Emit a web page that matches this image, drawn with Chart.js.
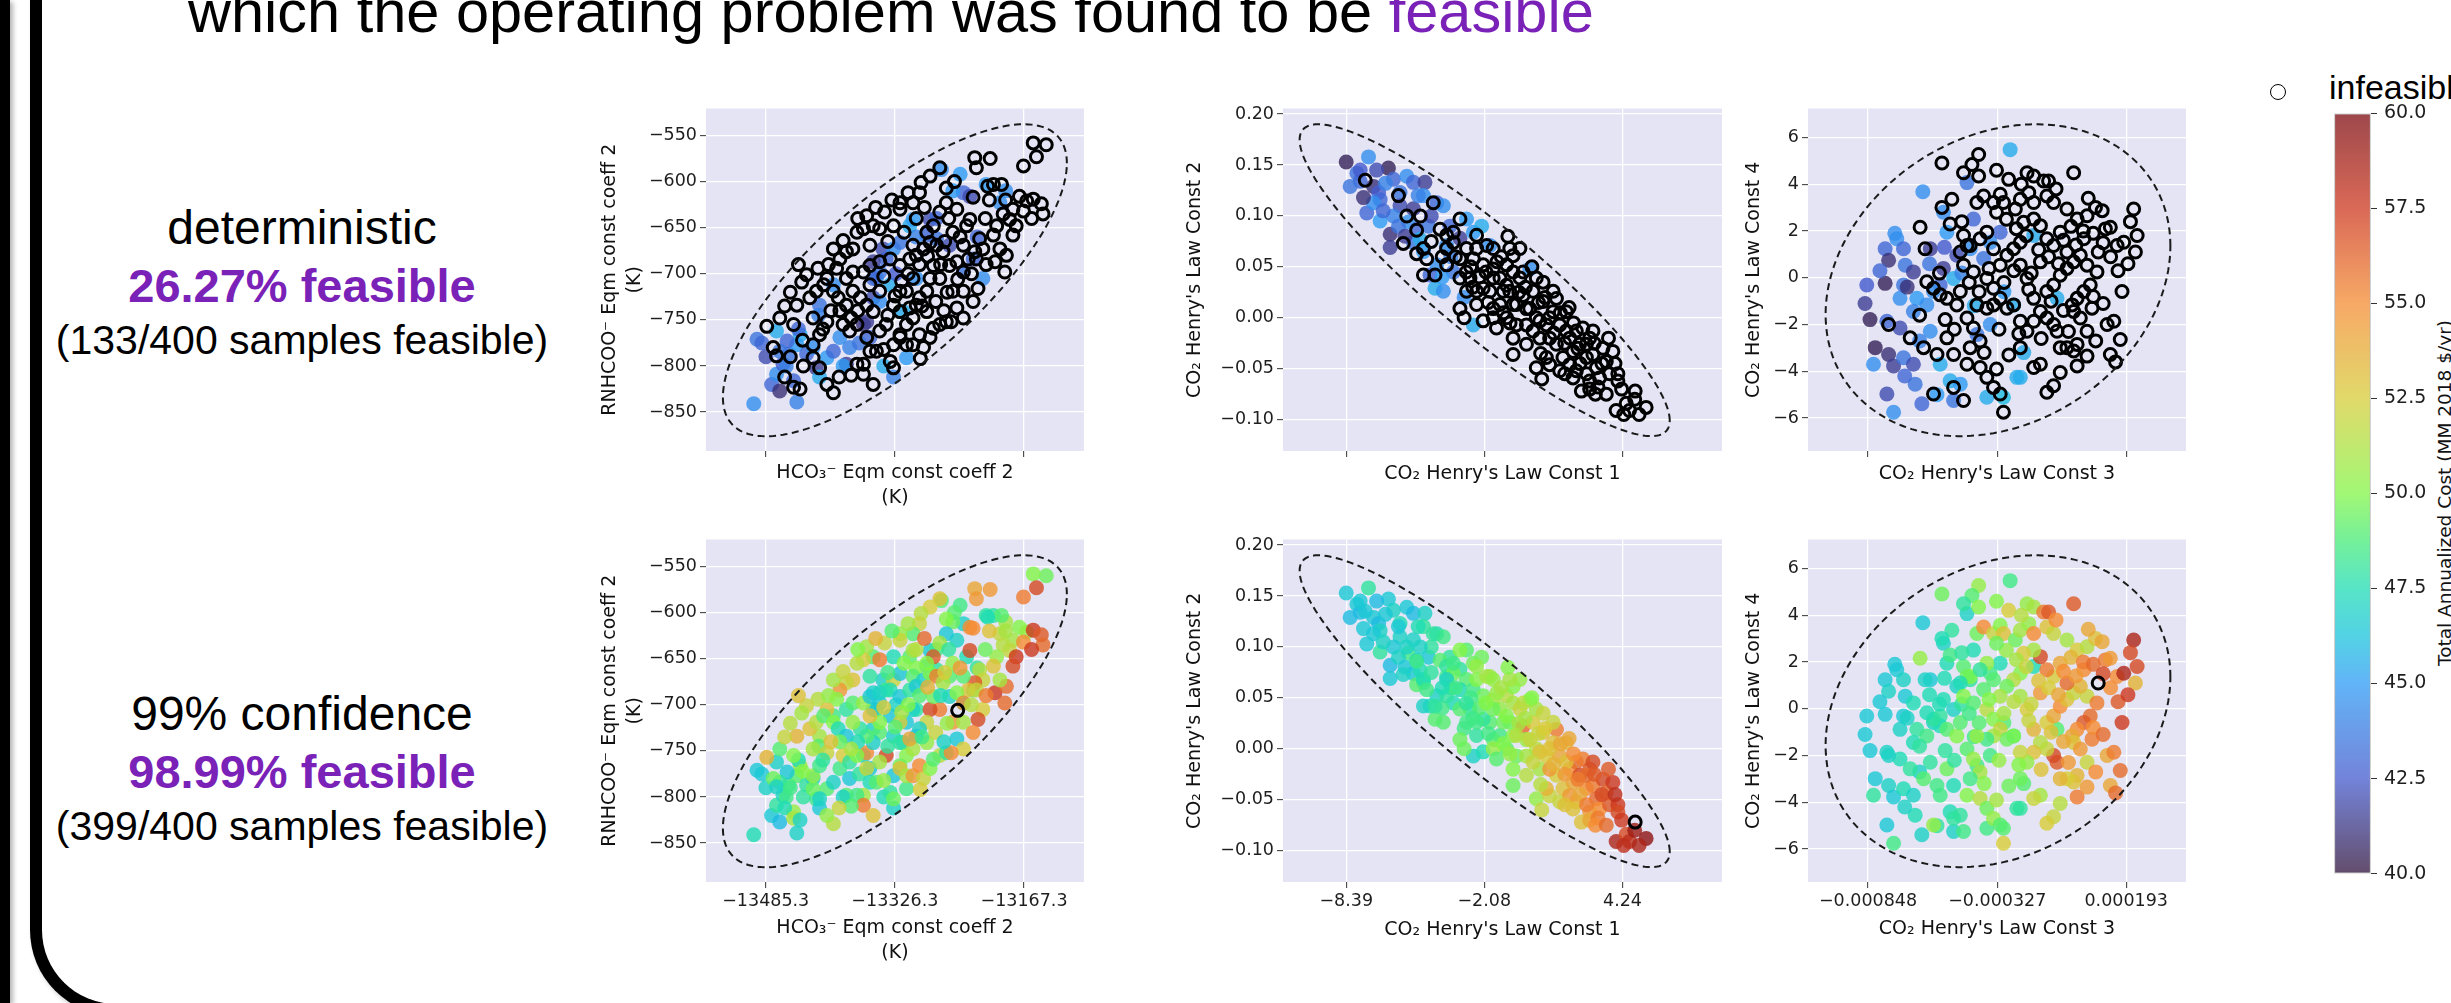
<!DOCTYPE html>
<html>
<head>
<meta charset="utf-8">
<script src="https://cdn.jsdelivr.net/npm/chart.js@4.4.1/dist/chart.umd.min.js"></script>
<style>
  body { margin: 0; width: 2451px; height: 1003px; overflow: hidden; background: #fff; position: relative;
         font-family: "Liberation Sans", Arial, sans-serif; }
  canvas { position: absolute; }
  .txt { position: absolute; white-space: nowrap; line-height: 1; color: #000; }
  .ctr { transform: translateX(-50%); }
  .purple { color: #7a22b8; }
  .bold { font-weight: bold; }
</style>
</head>
<body>
<div style="position:absolute;left:0;top:0;width:10px;height:1003px;background:#000;box-shadow:3px 2px 5px rgba(0,0,0,0.3)"></div>
<div style="position:absolute;left:30px;top:-100px;width:2600px;height:1116px;box-sizing:border-box;border-left:12px solid #000;border-bottom:12px solid #000;border-bottom-left-radius:86px;box-shadow:3px 3px 5px rgba(0,0,0,0.25)"></div>

<div class="txt" style="left:188px;top:-18px;font-size:59.5px">which the operating problem was found to be <span class="purple">feasible</span></div>

<div style="position:absolute;left:2270px;top:84px;width:16px;height:16px;box-sizing:border-box;border:1.6px solid #000;border-radius:50%"></div>
<div class="txt" style="left:2329px;top:70px;font-size:34px">infeasible</div>

<div class="txt ctr" style="left:302px;top:204px;font-size:48px">deterministic</div>
<div class="txt ctr purple bold" style="left:302px;top:262px;font-size:47px">26.27% feasible</div>
<div class="txt ctr" style="left:302px;top:320px;font-size:41px">(133/400 samples feasible)</div>

<div class="txt ctr" style="left:302px;top:690px;font-size:48px">99% confidence</div>
<div class="txt ctr purple bold" style="left:302px;top:748px;font-size:47px">98.99% feasible</div>
<div class="txt ctr" style="left:302px;top:806px;font-size:41px">(399/400 samples feasible)</div>

<div class="txt" style="left:2445px;top:493px;font-family:'DejaVu Sans',sans-serif;font-size:18.5px;color:#111;transform:translate(-50%,-50%) rotate(-90deg)">Total Annualized Cost (MM 2018 $/yr)</div>

<script>
// ---------- data ----------
// feasible rows: [x, y, deterministic cost, 99%-confidence cost]
// infeasible rows (deterministic): [x, y, 99%-confidence cost, or null where still infeasible]

const p1Feasible = [
  [-13500,-841,44.5,47.5],[-13496,-771,43.5,46.5],[-13490,-775,43,46.5],[-13478,-820,43,46.5],
  [-13472,-809,44.5,48],[-13468,-827,41,46],[-13464,-798,42.5,47],[-13457,-787,43.5,48.5],
  [-13451,-816,43,50.5],[-13447,-839,44,47],[-13443,-766,45.5,51],[-13447,-777,45,49],
  [-13435,-787,43,48],[-13427,-780,44.5,47],[-13423,-802,41.5,48.5],[-13419,-812,45.5,46.5],
  [-13410,-791,45,49],[-13402,-784,43,47],[-13394,-769,44.5,48.5],[-13382,-780,44,46.5],
  [-13365,-755,41,47],[-13361,-752,41.5,55],[-13357,-769,43,46.5],[-13353,-726,42,47],
  [-13349,-705,44.5,48],[-13345,-698,43.5,46.5],[-13341,-673,42,47],[-13337,-684,43,48.5],
  [-13328,-673,44.5,52],[-13320,-666,43.5,46.5],[-13308,-648,45.5,49],[-13304,-641,45,51],
  [-13287,-658,43,47],[-13283,-641,42,46.5],[-13275,-662,43.5,48],[-13269,-587,44.5,49],
  [-13246,-592,45,48.5],[-13242,-612,43,47],[-13234,-616,42,55],[-13214,-603,45,48],
  [-13197,-623,44.5,52],[-13230,-684,43,49],[-13242,-698,43.5,47],[-13316,-741,45.5,46.5],
  [-13353,-705,43,46.5],[-13402,-712,44.5,48.5],[-13419,-734,43.5,51],[-13459,-773,43,46.5],
  [-13468,-784,43.5,48],[-13328,-812,44,47],[-13332,-712,45.5,46.5],[-13300,-705,44.5,48],
  [-13353,-687,41.5,47],[-13259,-669,42,49],[-13218,-705,44.5,52.5],[-13312,-791,45,48.5],
  [-13472,-762,45.5,47],[-13386,-798,41.5,49],[-13485,-790,42,47],[-13460,-800,44,48.5],
  [-13445,-760,43,47.5],[-13390,-800,45,47],[-13370,-775,43.5,48],[-13345,-730,44.5,49],
  [-13325,-700,42.5,47],[-13300,-660,44,50],[-13275,-640,43,48.5],[-13255,-610,45,49.5],
  [-13190,-610,44.5,51],[-13225,-660,43,48],[-13340,-800,45.5,47.5],[-13420,-745,44,49]
];
const p1Infeasible = [
  [-13140,-560,49.5],[-13156,-558,50],[-13152,-573,57],[-13168,-583,55.5],[-13209,-575,54.5],
  [-13228,-574,54],[-13226,-585,54.5],[-13271,-585,53],[-13253,-600,49],[-13263,-607,50],
  [-13283,-594,52.5],[-13294,-601,51.5],[-13296,-612,52],[-13205,-603,48],[-13195,-603,49],
  [-13212,-605,47.5],[-13230,-617,55],[-13173,-616,50],[-13164,-621,50.5],[-13156,-619,57.5],
  [-13146,-624,56.5],[-13144,-635,56],[-13181,-630,51],[-13185,-641,52],[-13177,-648,57.5],
  [-13181,-658,57],[-13193,-635,51.5],[-13201,-648,50.5],[-13205,-658,53],[-13203,-687,57.5],
  [-13191,-698,56],[-13224,-716,57],[-13222,-662,51.5],[-13218,-673,52],[-13228,-676,56.5],
  [-13236,-684,53],[-13242,-669,49],[-13238,-648,47.5],[-13234,-641,57],[-13250,-630,47],
  [-13263,-623,46.5],[-13271,-633,51],[-13279,-648,56.5],[-13287,-655,50],[-13304,-623,49],
  [-13310,-612,51],[-13320,-623,50.5],[-13320,-630,52],[-13328,-648,47.5],[-13339,-633,52],
  [-13353,-648,49],[-13345,-651,55.5],[-13361,-637,51],[-13365,-651,52.5],[-13357,-669,48],
  [-13373,-655,51.5],[-13378,-673,53],[-13386,-676,52],[-13394,-684,54.5],[-13402,-673,51],
  [-13398,-694,50],[-13410,-705,53],[-13421,-694,51.5],[-13435,-701,52],[-13441,-709,51],
  [-13447,-734,53.5],[-13451,-755,50],[-13468,-748,49],[-13484,-757,53.5],[-13476,-780,49.5],
  [-13472,-789,47],[-13462,-812,47.5],[-13451,-823,51],[-13443,-825,47],[-13439,-800,48],
  [-13427,-791,49.5],[-13419,-802,47],[-13402,-829,51.5],[-13427,-777,50.5],[-13419,-766,48.5],
  [-13410,-752,52],[-13427,-748,51],[-13431,-726,53],[-13423,-719,51.5],[-13414,-712,49],
  [-13402,-719,50],[-13396,-726,47.5],[-13386,-705,48],[-13378,-698,49],[-13365,-698,50.5],
  [-13357,-691,46.5],[-13345,-687,47],[-13332,-684,47.5],[-13320,-691,46.5],[-13308,-684,48],
  [-13304,-669,49],[-13300,-680,46.5],[-13291,-673,47],[-13283,-666,50],[-13275,-669,55.5],
  [-13267,-676,51],[-13259,-691,47],[-13250,-687,50],[-13242,-698,55],[-13249,-706,null],
  [-13271,-705,55.5],[-13283,-705,57],[-13287,-719,52],[-13296,-726,47],[-13312,-719,46.5],
  [-13320,-719,52.5],[-13328,-734,47],[-13320,-741,48],[-13312,-755,50],[-13320,-766,49.5],
  [-13328,-777,46.5],[-13337,-755,57],[-13345,-762,51],[-13353,-741,47],[-13361,-734,49],
  [-13369,-726,48],[-13378,-719,50.5],[-13386,-734,46.5],[-13390,-755,52.5],[-13382,-762,48],
  [-13373,-755,50],[-13361,-769,52],[-13357,-784,47.5],[-13349,-784,49],[-13365,-798,51],
  [-13373,-798,48.5],[-13365,-809,55.5],[-13353,-820,53],[-13332,-795,48],[-13328,-802,49.5],
  [-13320,-769,53],[-13312,-777,51],[-13304,-777,54.5],[-13296,-766,55],[-13291,-780,52],
  [-13283,-769,50],[-13271,-755,51.5],[-13263,-752,48],[-13250,-737,46.5],[-13242,-748,52.5],
  [-13279,-759,49],[-13257,-752,55],[-13287,-741,50.5],[-13300,-734,46.5],[-13304,-748,51],
  [-13308,-737,54],[-13226,-684,52],[-13255,-719,54.5],[-13304,-705,47],[-13279,-691,49.5],
  [-13345,-719,50],[-13357,-712,53],[-13242,-719,51],[-13230,-730,55],[-13189,-680,56],
  [-13197,-673,51],[-13335,-745,48],[-13318,-708,51],[-13296,-690,49],[-13286,-681,53.5],
  [-13270,-690,47.5],[-13262,-720,50.5],[-13293,-735,48.5],[-13276,-730,52],[-13266,-740,47],
  [-13310,-700,50],[-13326,-724,49],[-13340,-703,52.5],[-13372,-740,47.5],[-13380,-748,51],
  [-13394,-740,49.5],[-13405,-740,53],[-13415,-760,48],[-13440,-772,50],[-13455,-790,48.5],
  [-13462,-735,52],[-13455,-720,51.5],[-13445,-690,53],[-13408,-690,50.5],[-13390,-664,52],
  [-13372,-640,50],[-13350,-628,53.5],[-13330,-620,49],[-13300,-640,51.5],[-13290,-628,56],
  [-13260,-640,48],[-13255,-655,50.5],[-13246,-660,54.5],[-13215,-640,49.5],[-13210,-620,53],
  [-13190,-620,51],[-13168,-632,55],[-13158,-640,57.5],[-13214,-690,55.5],[-13232,-700,51.5],
  [-13265,-665,52.5],[-13315,-655,50],[-13335,-665,48.5],[-13295,-792,52.5],[-13340,-782,50.5],
  [-13380,-810,49],[-13395,-812,52],[-13410,-820,50.5]
];

const p2Feasible = [
  [-8.39,0.153,40.5,46.5],[-7.37,0.158,44.5,48],[-7.90,0.142,43.5,46.5],[-7.75,0.134,43,46],
  [-7.14,0.129,41,46.5],[-6.91,0.123,42.5,46],[-6.46,0.147,40.5,46.5],[-6.23,0.136,43,47],
  [-5.93,0.123,43.5,47.5],[-5.62,0.139,44.5,46.5],[-5.32,0.133,43,46],[-4.79,0.133,41.5,47],
  [-4.86,0.120,44.5,48],[-4.25,0.113,43,47.5],[-3.95,0.110,44.5,48.5],[-7.45,0.103,43,46.5],
  [-6.84,0.095,45,48],[-6.38,0.082,41,46],[-6.38,0.069,41.5,46.5],[-5.93,0.110,42,47],
  [-5.55,0.094,44.5,48.5],[-5.17,0.087,43,47],[-5.32,0.074,43.5,46.5],[-4.86,0.065,45,48],
  [-4.63,0.090,43.5,46.5],[-4.25,0.052,44.5,47],[-4.33,0.029,45.5,49],[-4.56,0.042,43,47.5],
  [-3.80,0.071,44.5,48.5],[-3.19,0.078,41.5,48],[-2.58,0.084,45,49.5],[-1.82,0.071,44.5,50.5],
  [-2.58,-0.007,45.5,47],[0.00,0.048,44.5,50],[-3.65,0.090,43,48],[-7.75,0.145,42.5,46.5],
  [-6.84,0.116,43,47],[-6.23,0.100,44,46.5],[-3.49,0.045,43.5,47.5],[-2.89,0.097,45,49],
  [-8.21,0.129,43.5,46],[-7.14,0.113,44.5,46.5],[-5.32,0.107,41.5,47],[-3.95,0.026,44.5,49],
  [-5.01,0.077,45.5,47.5],[-7.00,0.145,42,46],[-6.60,0.132,44,46.5],[-6.00,0.090,43.5,47],
  [-5.70,0.080,41.5,46.5],[-5.10,0.120,44,47.5],[-4.50,0.100,42,48],[-4.00,0.040,45,48.5],
  [-3.60,0.060,44,48],[-6.70,0.105,43,47],[-7.60,0.118,41,46.5],[-2.20,0.090,45.5,49.5],
  [-3.00,0.020,44.5,48.5]
];
const p2Infeasible = [
  [-7.52,0.135,46.5],[-4.41,0.113,48],[-5.62,0.100,47],[-5.17,0.086,48.5],[-5.78,0.073,47],
  [-5.17,0.063,49],[-4.86,0.068,47.5],[-4.71,0.058,48.5],[-4.86,0.042,47],[-4.33,0.042,48],
  [-4.10,0.087,49],[-3.80,0.081,48],[-3.49,0.074,49.5],[-3.19,0.097,50],[-3.49,0.084,48.5],
  [-2.43,0.081,50.5],[-2.89,0.068,49],[-3.19,0.058,47.5],[-3.80,0.052,48],[-3.80,0.068,47],
  [-2.58,0.058,48.5],[-2.43,0.068,50],[-1.97,0.071,51],[-1.67,0.068,50.5],[-2.13,0.052,49.5],
  [-1.67,0.048,51],[-2.73,0.039,48],[-3.19,0.039,49],[-2.89,0.026,48.5],[-3.19,0.009,49.5],
  [-2.43,0.013,48],[-2.13,-0.003,47.5],[-1.82,0.026,49],[-1.36,0.039,50.5],[-1.06,0.052,51.5],
  [-0.76,0.061,50],[-0.76,0.045,51],[-0.91,0.026,49.5],[-1.36,0.013,48.5],[-1.06,0.000,49],
  [-0.45,0.039,52],[-0.30,0.022,56],[-0.15,0.009,50.5],[-0.61,-0.007,49.5],[-0.76,-0.020,50],
  [-0.76,-0.036,49.5],[-0.15,-0.026,51.5],[0.15,0.026,52.5],[0.30,0.039,51],[0.61,0.035,52],
  [0.61,0.016,53],[0.30,0.000,51.5],[0.76,-0.007,52.5],[0.46,-0.020,51],[0.30,-0.049,50.5],
  [0.91,-0.046,52],[1.22,0.019,55.5],[1.07,0.006,53],[1.37,-0.007,54],[1.67,0.006,53.5],
  [1.22,-0.026,52.5],[1.52,-0.039,53],[1.37,-0.052,52],[1.83,-0.020,55],[2.13,-0.013,56],
  [1.98,-0.033,54],[2.43,-0.010,55.5],[2.28,-0.026,57],[2.59,-0.039,55],[2.13,-0.052,53.5],
  [2.74,-0.020,56.5],[2.89,-0.036,55.5],[3.05,-0.049,56],[3.35,-0.030,57],[3.50,-0.043,56],
  [3.19,-0.059,55],[3.80,-0.033,57.5],[3.65,-0.055,56.5],[2.74,-0.062,54.5],[2.36,-0.072,53],
  [2.74,-0.070,54],[3.12,-0.068,55.5],[4.03,-0.055,57.5],[3.95,-0.091,58.5],[4.41,-0.084,57],
  [4.82,-0.072,null],[4.56,-0.091,58],[5.32,-0.088,59.5],[4.03,-0.062,57],[-0.76,0.013,50],
  [-1.67,0.009,49],[-1.67,0.000,50.5],[-2.13,0.029,48],[-0.15,-0.007,51],[0.00,0.009,52],
  [-0.45,0.068,50.5],[-0.91,0.068,51],[-1.21,0.026,49.5],[0.46,-0.003,53],[0.91,-0.020,54.5],
  [1.67,-0.013,53],[1.83,-0.046,54.5],[2.59,-0.026,56],[1.07,0.026,52],[-1.52,-0.010,49],
  [-2.43,0.026,48.5],[-1.06,0.032,50],[-1.67,0.039,49.5],[-0.61,0.013,51.5],[0.15,-0.013,52],
  [0.76,-0.039,53.5],[1.98,-0.059,53],[2.89,-0.013,57],[-2.70,0.050,48.5],[-2.30,0.040,49],
  [-2.00,0.045,50],[-1.50,0.055,50.5],[-1.30,0.060,51],[-1.90,0.015,48.5],[-1.20,0.005,50],
  [-0.90,-0.005,50.5],[-0.50,0.025,51],[-0.30,0.045,51.5],[0.10,0.050,50],[0.40,0.015,52],
  [0.50,-0.035,51.5],[0.90,0.000,53],[1.10,-0.015,53.5],[1.40,0.005,54],[1.60,-0.025,54.5],
  [2.00,-0.005,55],[2.30,-0.045,54],[2.60,-0.055,55.5],[2.95,-0.025,56.5],[3.30,-0.045,57],
  [3.60,-0.020,56.5],[3.90,-0.045,58],[4.20,-0.070,57.5],[4.80,-0.080,59],[5.00,-0.095,58.5],
  [4.30,-0.095,58],[1.80,0.010,54],[0.70,0.020,52.5],[-0.20,0.030,51],[-2.90,0.045,48],
  [-3.40,0.060,48.5],[-4.00,0.060,47.5],[-4.50,0.075,48],[-6.00,0.120,46.5],[-5.00,0.100,47],
  [-3.00,0.000,49.5],[-2.60,0.030,48.5],[0.55,-0.060,52],[1.60,-0.055,53],[2.20,-0.030,55.5],
  [3.00,-0.075,55],[3.50,-0.075,56],[-1.00,0.080,50]
];

const p3Feasible = [
  [-0.000627,3.68,44.5,46.5],[-0.000779,1.24,43,46.5],[-0.000765,0.75,41,47],[-0.000732,1.67,44.5,46.5],
  [-0.000705,1.24,43,47],[-0.000698,0.54,43.5,46.5],[-0.000665,0.25,41.5,47.5],[-0.000853,-0.31,42.5,46.5],
  [-0.000779,-0.24,40.5,46.5],[-0.000719,-0.88,44.5,47],[-0.000705,-0.31,43.5,46.5],[-0.000651,-0.88,45,48],
  [-0.000665,-1.44,44,47.5],[-0.000611,-1.16,44.5,48.5],[-0.000840,-1.79,40.5,46.5],[-0.000772,-1.86,43,47],
  [-0.000719,-2.15,42,47.5],[-0.000819,-2.99,40.5,46.5],[-0.000765,-3.28,41,47],[-0.000745,-3.77,41.5,46.5],
  [-0.000826,-3.70,44.5,48],[-0.000705,-3.42,43.5,47.5],[-0.000665,-3.70,42,47],[-0.000658,-4.55,43.5,47.5],
  [-0.000631,-5.39,43,47],[-0.000772,-4.97,42,46.5],[-0.000745,-5.75,44.5,48.5],[-0.000597,-2.29,44.5,48],
  [-0.000557,-3.70,45.5,48.5],[-0.000517,-4.41,45.5,47.5],[-0.000476,-4.55,45,48],[-0.000503,-5.25,43.5,47],
  [-0.000369,-5.11,45.5,48.5],[-0.000302,-5.11,46,49],[-0.000234,-4.26,45.5,48],[-0.000449,4.07,43.5,47],
  [-0.000423,2.51,43,47.5],[-0.000436,1.24,44.5,48],[-0.000544,2.80,44.5,47],[-0.000530,1.95,45,47.5],
  [-0.000490,0.96,42,47],[-0.000544,0.40,41.5,47.5],[-0.000557,-0.31,43,48],[-0.000503,-0.03,45.5,47],
  [-0.000382,0.82,43.5,49],[-0.000355,1.52,44.5,48.5],[-0.000275,5.48,45.5,48.5],[-0.000315,1.95,43,47.5],
  [-0.000261,-1.16,45.5,48],[-0.000355,-2.00,44.5,48.5],[-0.000180,1.81,45.5,47.5],[-0.000086,-0.88,45.5,49],
  [-0.000248,-4.26,45.5,48],[-0.000409,-2.43,43.5,48.5],[-0.000597,1.24,41.5,46.5],[-0.000584,-0.59,44.5,47],
  [-0.000800,0.30,43,46.5],[-0.000690,-0.40,41,47],[-0.000740,1.90,44.5,46.5],[-0.000600,0.60,43.5,47.5],
  [-0.000640,-2.70,44,47],[-0.000570,-5.00,45,48],[-0.000540,1.30,42.5,47.5],[-0.000470,0.20,44,48],
  [-0.000420,-1.20,45.5,48.5],[-0.000300,-0.60,45,49],[-0.000860,-1.10,41.5,46.5],[-0.000700,-4.20,43,47],
  [-0.000220,-3.20,45.5,49]
];
const p3Infeasible = [
  [-0.000550,4.91,49.5],[-0.000402,5.27,50.5],[-0.000429,4.84,49],[-0.000463,4.49,48],[-0.000402,4.35,50],
  [-0.000281,4.21,52.5],[-0.000207,4.49,50.5],[-0.000180,4.35,51],[-0.000140,4.14,55.5],[-0.000120,4.14,56.5],
  [-0.000019,4.49,56.5],[-0.000510,3.36,48],[-0.000550,3.01,47.5],[-0.000517,2.30,48.5],[-0.000638,2.16,50.5],
  [-0.000618,1.24,47],[-0.000463,1.81,49],[-0.000436,1.38,50],[-0.000409,3.22,49.5],[-0.000382,3.50,55],
  [-0.000342,3.22,52],[-0.000315,3.57,50],[-0.000302,3.22,53],[-0.000254,2.94,49.5],[-0.000234,3.36,51],
  [-0.000200,3.64,50.5],[-0.000180,3.22,55],[-0.000127,3.50,53],[-0.000100,3.22,52],[-0.000046,2.94,51],
  [-0.000005,2.51,52.5],[0.000035,2.65,51.5],[0.000069,3.01,53],[0.000096,2.87,54],[0.000109,2.09,55.5],
  [0.000129,2.16,54.5],[0.000156,1.38,55],[0.000183,1.52,58.5],[0.000223,2.94,58.5],[0.000237,1.81,57],
  [0.000230,1.10,53.5],[0.000080,1.10,null],[0.000035,0.54,52],[0.000075,0.25,55.5],[0.000048,-0.31,56],
  [0.000022,-0.59,56.5],[-0.000005,-0.88,55],[-0.000025,-1.16,54],[-0.000019,-1.44,53],[0.000008,-1.72,54.5],
  [0.000055,-1.30,55.5],[0.000116,-2.00,54],[0.000169,-2.64,56],[0.000176,-0.59,57.5],[0.000035,-2.29,52],
  [-0.000005,-2.85,53.5],[-0.000005,-3.77,55.5],[0.000035,-3.35,54.5],[-0.000019,-3.13,53],[-0.000046,-2.99,52.5],
  [-0.000073,-2.99,53.5],[-0.000073,-4.05,51.5],[-0.000100,-4.62,52],[-0.000127,-4.90,52.5],[-0.000153,-3.70,51],
  [-0.000180,-3.84,52],[-0.000086,-2.29,56.5],[-0.000100,-2.00,57],[-0.000127,-1.72,52],[-0.000153,-1.44,51.5],
  [-0.000180,-1.86,53],[-0.000207,-2.29,50.5],[-0.000234,-2.99,49.5],[-0.000234,-1.86,52],[-0.000261,-1.16,50],
  [-0.000180,-0.88,53.5],[-0.000127,-0.59,52.5],[-0.000100,-0.31,54],[-0.000073,0.11,55],[-0.000046,0.40,53],
  [-0.000019,0.68,52],[0.000008,0.96,53.5],[-0.000046,1.10,56],[-0.000100,1.38,52.5],[-0.000127,1.67,55.5],
  [-0.000073,1.95,54],[-0.000153,2.23,57],[-0.000180,2.51,51],[-0.000221,2.37,52.5],[-0.000234,1.52,50],
  [-0.000261,1.24,51.5],[-0.000288,0.96,49.5],[-0.000315,0.54,51],[-0.000342,1.24,49],[-0.000369,1.95,50.5],
  [-0.000396,1.67,48],[-0.000449,1.38,49.5],[-0.000476,1.10,47.5],[-0.000463,0.54,50],[-0.000423,0.25,49],
  [-0.000369,-0.03,51.5],[-0.000342,-0.45,50],[-0.000315,-0.88,52],[-0.000288,-1.30,49.5],[-0.000342,-1.16,51],
  [-0.000369,-1.30,48.5],[-0.000409,-1.16,50.5],[-0.000449,-1.72,49],[-0.000423,-2.15,50.5],[-0.000396,-2.71,51],
  [-0.000436,-2.99,48.5],[-0.000449,-3.70,50],[-0.000396,-3.84,51.5],[-0.000369,-4.26,49.5],[-0.000342,-4.69,50.5],
  [-0.000315,-4.97,49],[-0.000302,-5.75,52.5],[-0.000463,-5.25,48.5],[-0.000503,-4.69,48],[-0.000584,-4.97,50.5],
  [-0.000503,-3.28,47.5],[-0.000570,-3.28,48.5],[-0.000530,-2.57,49.5],[-0.000537,-1.79,48],[-0.000557,-0.73,47.5],
  [-0.000530,-0.88,49],[-0.000584,-0.45,48],[-0.000611,-0.17,47.5],[-0.000490,-1.16,50],[-0.000476,-0.59,49],
  [-0.000765,-2.00,47],[-0.000678,-2.57,48],[-0.000624,-2.99,49],[0.000143,-1.86,55.5],[0.000129,-3.28,54],
  [-0.000207,-0.03,52.5],[-0.000153,0.68,54.5],[-0.000234,0.54,51],[0.000022,1.67,55],
  [-0.000290,2.50,50.5],[-0.000250,2.10,51],[-0.000210,1.80,52],[-0.000160,1.20,53],[-0.000120,0.90,52.5],
  [-0.000080,0.60,54],[-0.000060,1.60,55],[-0.000030,2.20,53.5],[-0.000010,1.40,54.5],[0.000020,2.00,55.5],
  [0.000060,1.90,56],[0.000100,1.50,57],[0.000130,0.90,55],[0.000160,0.30,56.5],[0.000060,-0.80,55],
  [0.000100,-1.10,56],[-0.000060,-1.40,54],[-0.000110,-1.00,53],[-0.000200,-0.50,52],[-0.000240,-2.40,50],
  [-0.000280,-3.30,49.5],[-0.000320,-2.20,50.5],[-0.000300,-0.20,51],[-0.000260,0.30,51.5],[-0.000330,2.80,49.5],
  [-0.000360,0.40,50],[-0.000400,-0.60,49],[-0.000440,-0.20,48.5],[-0.000470,2.40,48],[-0.000380,-3.20,50],
  [-0.000330,-3.90,51],[-0.000150,-2.60,53],[-0.000040,-2.30,54.5],[0.000070,-2.70,55],[0.000150,-3.60,56],
  [0.000200,0.60,57.5],[0.000210,2.40,57],[-0.000230,4.00,51.5],[-0.000330,4.60,50],[-0.000090,3.80,55],
  [0.000040,3.40,54],[-0.000500,-2.20,48],[-0.000560,0.20,47.5],[-0.000640,-1.60,48],[-0.000190,0.20,52]
];

// confidence ellipses: [centre x, centre y, half width x, half height y, correlation]
const p1Ellipse = [-13326.3, -707, 211.7, 169.2, 0.75];
const p2Ellipse = [-2.06, 0.0369, 8.46, 0.1531, -0.90];
const p3Ellipse = [-0.000324, -0.105, 0.000695, 6.67, 0.22];

// axis ranges and ticks
const p1XRange = [-13558.8, -13093.5], p1YRange = [-892.2, -520.7];
const p2XRange = [-11.28, 8.79],       p2YRange = [-0.1308, 0.2055];
const p3XRange = [-0.00109, 0.000434], p3YRange = [-7.41, 7.24];
const p1XTicks = [-13485.3, -13326.3, -13167.3];
const p1YTicks = [-850, -800, -750, -700, -650, -600, -550];
const p2XTicks = [-8.39, -2.08, 4.24];
const p2YTicks = [-0.10, -0.05, 0, 0.05, 0.10, 0.15, 0.20];
const p3XTicks = [-0.000848, -0.000327, 0.000193];
const p3YTicks = [-6, -4, -2, 0, 2, 4, 6];
const costRange = [40, 60];
const costTicks = [40, 42.5, 45, 47.5, 50, 52.5, 55, 57.5, 60];

// ---------- styling ----------
const FONT = "'DejaVu Sans', sans-serif";
const CMAP = [
  [0.0, [48, 18, 59]], [0.125, [68, 90, 205]], [0.25, [45, 155, 245]], [0.3125, [25, 195, 220]],
  [0.375, [30, 220, 180]], [0.4375, [70, 235, 120]], [0.5, [130, 245, 70]], [0.625, [215, 205, 55]],
  [0.75, [245, 140, 50]], [0.875, [205, 55, 30]], [1.0, [125, 10, 15]]
];
function cmap(c, a) {
  const t = Math.max(0, Math.min(1, (c - costRange[0]) / (costRange[1] - costRange[0])));
  let i = 0;
  while (i < CMAP.length - 2 && t > CMAP[i + 1][0]) i++;
  const [t0, c0] = CMAP[i], [t1, c1] = CMAP[i + 1];
  const f = (t - t0) / (t1 - t0);
  const rgb = c0.map((v, k) => Math.round(v + (c1[k] - v) * f));
  return `rgba(${rgb[0]},${rgb[1]},${rgb[2]},${a})`;
}
const fmt = d => v => v.toFixed(d).replace('-', '\u2212');

const plotBg = {
  id: 'plotBg',
  beforeDraw(chart) {
    const { ctx, chartArea: a } = chart;
    ctx.save();
    ctx.fillStyle = '#e4e4f5';
    ctx.fillRect(a.left, a.top, a.width, a.height);
    ctx.restore();
  }
};

const confEllipse = {
  id: 'confEllipse',
  afterDatasetsDraw(chart, args, opts) {
    const [cx, cy, ax, by, rho] = opts.params;
    const xs = chart.scales.x, ys = chart.scales.y;
    const d = Math.acos(rho);
    const ctx = chart.ctx;
    ctx.save();
    ctx.beginPath();
    for (let i = 0; i <= 240; i++) {
      const t = i / 240 * Math.PI * 2;
      const px = xs.getPixelForValue(cx + ax * Math.cos(t));
      const py = ys.getPixelForValue(cy + by * Math.cos(t - d));
      if (i) ctx.lineTo(px, py); else ctx.moveTo(px, py);
    }
    ctx.setLineDash([7, 4.5]);
    ctx.lineWidth = 2;
    ctx.strokeStyle = '#1a1a1a';
    ctx.stroke();
    ctx.restore();
  }
};

const PAD_T = 10, PAD_R = 10;
const cols = [{ left: 706, w: 378, yW: 108 }, { left: 1283, w: 439, yW: 100 }, { left: 1808, w: 378, yW: 66 }];
const rows = [{ top: 105, h: 346, xH: [59, 35, 35] }, { top: 536, h: 346, xH: [83, 60, 59] }];

const panels = [
  { feas: p1Feasible, inf: p1Infeasible, ell: p1Ellipse, xr: p1XRange, yr: p1YRange, xt: p1XTicks, yt: p1YTicks,
    xf: fmt(1), yf: fmt(0), xTitle: ['HCO\u2083\u207B Eqm const coeff 2', '(K)'], yTitle: ['RNHCOO\u207B Eqm const coeff 2', '(K)'] },
  { feas: p2Feasible, inf: p2Infeasible, ell: p2Ellipse, xr: p2XRange, yr: p2YRange, xt: p2XTicks, yt: p2YTicks,
    xf: fmt(2), yf: fmt(2), xTitle: "CO\u2082 Henry's Law Const 1", yTitle: "CO\u2082 Henry's Law Const 2" },
  { feas: p3Feasible, inf: p3Infeasible, ell: p3Ellipse, xr: p3XRange, yr: p3YRange, xt: p3XTicks, yt: p3YTicks,
    xf: fmt(6), yf: fmt(0), xTitle: "CO\u2082 Henry's Law Const 3", yTitle: "CO\u2082 Henry's Law Const 4" }
];

function datasetsFor(p, row) {
  const pt = r => ({ x: r[0], y: r[1] });
  let colored, colors, open;
  if (row === 0) {
    colored = p.feas.map(pt);
    colors = p.feas.map(r => cmap(r[2], 0.8));
    open = p.inf.map(pt);
  } else {
    const all = p.feas.map(r => [r[0], r[1], r[3]]).concat(p.inf);
    const ok = all.filter(r => r[2] !== null);
    colored = ok.map(pt);
    colors = ok.map(r => cmap(r[2], 0.8));
    open = all.filter(r => r[2] === null).map(pt);
  }
  return [
    { data: colored, backgroundColor: colors, borderWidth: 0, pointRadius: 7.5, order: 1 },
    { data: open, backgroundColor: 'rgba(0,0,0,0)', borderColor: '#000', borderWidth: 3, pointRadius: 6, order: 0 }
  ];
}

function axis(range, ticks, labelFmt, showLabels, title, fitFn) {
  return {
    type: 'linear', min: range[0], max: range[1],
    afterBuildTicks: a => { a.ticks = ticks.map(v => ({ value: v })); },
    afterFit: fitFn,
    ticks: { callback: v => showLabels ? labelFmt(v) : '', autoSkip: false, maxRotation: 0, padding: 3,
             color: '#1e1e1e', font: { family: FONT, size: 17.5 } },
    grid: { color: '#ffffff', lineWidth: 1.3, tickColor: '#333', tickLength: 6, tickWidth: 1 },
    border: { display: false },
    title: { display: true, text: title, color: '#111', padding: 0, font: { family: FONT, size: 19, lineHeight: 1.3 } }
  };
}

rows.forEach((rw, ri) => {
  cols.forEach((cl, ci) => {
    const p = panels[ci];
    const xH = rw.xH[ci];
    const cv = document.createElement('canvas');
    const W = cl.yW + cl.w + PAD_R, H = PAD_T + rw.h + xH;
    cv.width = W; cv.height = H;
    cv.style.left = (cl.left - cl.yW) + 'px';
    cv.style.top = (rw.top - PAD_T) + 'px';
    document.body.appendChild(cv);
    new Chart(cv, {
      type: 'scatter',
      data: { datasets: datasetsFor(p, ri) },
      plugins: [plotBg, confEllipse],
      options: {
        responsive: false, animation: false, devicePixelRatio: 1,
        layout: { padding: { top: PAD_T, right: PAD_R, left: 0, bottom: 0 } },
        plugins: { legend: { display: false }, tooltip: { enabled: false }, confEllipse: { params: p.ell } },
        scales: {
          x: axis(p.xr, p.xt, p.xf, ri === 1, p.xTitle, a => { a.height = xH; }),
          y: axis(p.yr, p.yt, p.yf, true, p.yTitle, a => { a.width = cl.yW; })
        }
      }
    });
  });
});

// ---------- colour bar ----------
const cb = document.createElement('canvas');
cb.width = 117; cb.height = 797;
cb.style.left = '2334px'; cb.style.top = '95px';
document.body.appendChild(cb);
new Chart(cb, {
  type: 'bar',
  data: {
    labels: [''],
    datasets: [{
      data: [[costRange[0], costRange[1]]],
      backgroundColor: c => {
        const a = c.chart.chartArea;
        if (!a) return 'rgba(0,0,0,0)';
        const g = c.chart.ctx.createLinearGradient(0, a.bottom, 0, a.top);
        CMAP.forEach(([t]) => g.addColorStop(t, cmap(costRange[0] + t * (costRange[1] - costRange[0]), 0.75)));
        return g;
      },
      borderColor: '#d2d2d2', borderWidth: 1.5, borderSkipped: false,
      barPercentage: 1, categoryPercentage: 1
    }]
  },
  options: {
    responsive: false, animation: false, devicePixelRatio: 1,
    layout: { padding: { top: 10, bottom: 10, left: 0, right: 0 } },
    plugins: { legend: { display: false }, tooltip: { enabled: false } },
    scales: {
      x: { display: false },
      y: {
        position: 'right', min: costRange[0], max: costRange[1],
        afterBuildTicks: a => { a.ticks = costTicks.map(v => ({ value: v })); },
        afterFit: a => { a.width = 80; },
        ticks: { callback: v => v.toFixed(1), padding: 7, color: '#1e1e1e', font: { family: FONT, size: 19 } },
        grid: { drawOnChartArea: false, tickLength: 6, tickColor: '#333' },
        border: { display: false }
      }
    }
  }
});
</script>
</body>
</html>
